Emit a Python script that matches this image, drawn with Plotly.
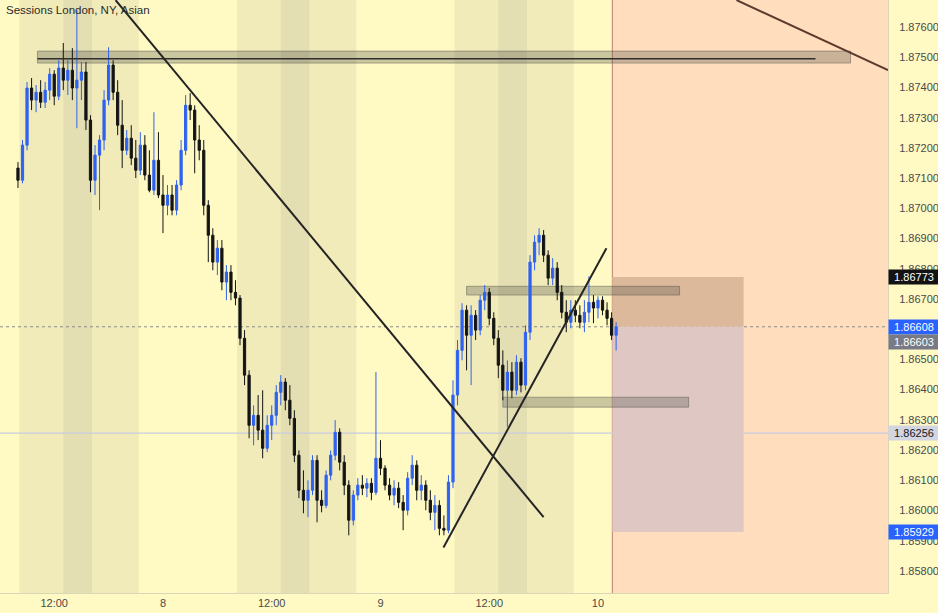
import plotly.graph_objects as go
import pandas as pd

# ---------------- data (30-minute candles) ----------------
times = pd.date_range("2021-06-07 08:00", periods=133, freq="30min")

opens = [1.87133, 1.87093, 1.87209, 1.87398, 1.87358, 1.87384, 1.87351, 1.87391, 1.87444, 1.87371,
         1.87464, 1.87424, 1.87457, 1.87398, 1.87424, 1.87451, 1.87292, 1.87093, 1.87176, 1.87226,
         1.87358, 1.87474, 1.87384, 1.87275, 1.87192, 1.87232, 1.87166, 1.87126, 1.87209, 1.87110,
         1.87060, 1.87159, 1.87044, 1.87010, 1.87044, 1.86994, 1.87077, 1.87192, 1.87341, 1.87325,
         1.87226, 1.87192, 1.87010, 1.86911, 1.86822, 1.86868, 1.86756, 1.86789, 1.86722, 1.86703,
         1.86570, 1.86448, 1.86282, 1.86315, 1.86266, 1.86206, 1.86282, 1.86315, 1.86391, 1.86425,
         1.86365, 1.86305, 1.86183, 1.86067, 1.86034, 1.86067, 1.86166, 1.86034, 1.86017, 1.86117,
         1.86183, 1.86259, 1.86160, 1.86084, 1.85968, 1.86051, 1.86084, 1.86074, 1.86090, 1.86060,
         1.86173, 1.86140, 1.86084, 1.86051, 1.86074, 1.86027, 1.86001, 1.86107, 1.86150, 1.86067,
         1.86084, 1.86034, 1.85994, 1.86017, 1.85941, 1.85935, 1.86094, 1.86382, 1.86530, 1.86663,
         1.86580, 1.86646, 1.86597, 1.86696, 1.86722, 1.86636, 1.86570, 1.86481, 1.86398, 1.86458,
         1.86398, 1.86491, 1.86415, 1.86590, 1.86822, 1.86888, 1.86911, 1.86845, 1.86769, 1.86802,
         1.86722, 1.86656, 1.86623, 1.86663, 1.86646, 1.86623, 1.86656, 1.86689, 1.86670, 1.86696,
         1.86663, 1.86636, 1.86580]

highs = [1.87153, 1.87226, 1.87418, 1.87431, 1.87408, 1.87424, 1.87418, 1.87464, 1.87457, 1.87490,
         1.87547, 1.87490, 1.87530, 1.87656, 1.87484, 1.87484, 1.87308, 1.87209, 1.87242, 1.87391,
         1.87533, 1.87490, 1.87424, 1.87358, 1.87259, 1.87275, 1.87226, 1.87252, 1.87242, 1.87192,
         1.87318, 1.87252, 1.87110, 1.87077, 1.87077, 1.87093, 1.87226, 1.87375, 1.87381, 1.87341,
         1.87275, 1.87226, 1.87027, 1.86934, 1.86895, 1.86895, 1.86812, 1.86812, 1.86762, 1.86713,
         1.86597, 1.86464, 1.86348, 1.86382, 1.86398, 1.86315, 1.86348, 1.86415, 1.86448, 1.86438,
         1.86415, 1.86332, 1.86199, 1.86133, 1.86100, 1.86183, 1.86183, 1.86067, 1.86133, 1.86199,
         1.86299, 1.86272, 1.86183, 1.86100, 1.86067, 1.86107, 1.86117, 1.86107, 1.86107, 1.86458,
         1.86233, 1.86150, 1.86107, 1.86100, 1.86094, 1.86051, 1.86127, 1.86183, 1.86166, 1.86117,
         1.86100, 1.86067, 1.86051, 1.86034, 1.85984, 1.86117, 1.86431, 1.86564, 1.86686, 1.86679,
         1.86679, 1.86663, 1.86713, 1.86746, 1.86736, 1.86656, 1.86597, 1.86530, 1.86497, 1.86491,
         1.86514, 1.86504, 1.86613, 1.86845, 1.86911, 1.86934, 1.86928, 1.86861, 1.86835, 1.86822,
         1.86746, 1.86696, 1.86696, 1.86696, 1.86679, 1.86696, 1.86775, 1.86713, 1.86709, 1.86709,
         1.86689, 1.86656, 1.86623]

lows = [1.87067, 1.87083, 1.87192, 1.87325, 1.87318, 1.87332, 1.87332, 1.87358, 1.87341, 1.87358,
        1.87391, 1.87375, 1.87358, 1.87265, 1.87358, 1.87259, 1.87053, 1.87044, 1.86994, 1.87192,
        1.87341, 1.87358, 1.87242, 1.87133, 1.87176, 1.87143, 1.87100, 1.87110, 1.87093, 1.87053,
        1.87044, 1.87034, 1.86918, 1.86977, 1.86977, 1.86977, 1.87060, 1.87176, 1.87292, 1.87116,
        1.87159, 1.86977, 1.86822, 1.86795, 1.86779, 1.86729, 1.86696, 1.86696, 1.86679, 1.86547,
        1.86415, 1.86239, 1.86216, 1.86233, 1.86173, 1.86193, 1.86233, 1.86282, 1.86348, 1.86332,
        1.86282, 1.86160, 1.86041, 1.85991, 1.85978, 1.86051, 1.85961, 1.85994, 1.86008, 1.86100,
        1.86166, 1.86133, 1.86051, 1.85918, 1.85951, 1.86034, 1.86051, 1.86044, 1.86034, 1.86051,
        1.86117, 1.86067, 1.86034, 1.86017, 1.86008, 1.85935, 1.85984, 1.86084, 1.86034, 1.86034,
        1.86001, 1.85968, 1.85935, 1.85918, 1.85918, 1.85925, 1.86074, 1.86348, 1.86497, 1.86464,
        1.86415, 1.86564, 1.86580, 1.86663, 1.86613, 1.86547, 1.86438, 1.86365, 1.86276, 1.86372,
        1.86382, 1.86391, 1.86398, 1.86564, 1.86795, 1.86845, 1.86822, 1.86746, 1.86746, 1.86696,
        1.86636, 1.86590, 1.86603, 1.86623, 1.86603, 1.86590, 1.86623, 1.86620, 1.86636, 1.86646,
        1.86613, 1.86564, 1.86530]

closes = [1.87093, 1.87209, 1.87398, 1.87358, 1.87384, 1.87351, 1.87391, 1.87444, 1.87371, 1.87464,
          1.87424, 1.87457, 1.87398, 1.87424, 1.87451, 1.87292, 1.87093, 1.87176, 1.87226, 1.87358,
          1.87474, 1.87384, 1.87275, 1.87192, 1.87232, 1.87166, 1.87126, 1.87209, 1.87110, 1.87060,
          1.87159, 1.87044, 1.87010, 1.87044, 1.86994, 1.87077, 1.87192, 1.87341, 1.87325, 1.87226,
          1.87192, 1.87010, 1.86911, 1.86822, 1.86868, 1.86756, 1.86789, 1.86722, 1.86703, 1.86570,
          1.86448, 1.86282, 1.86315, 1.86266, 1.86206, 1.86282, 1.86315, 1.86391, 1.86425, 1.86365,
          1.86305, 1.86183, 1.86067, 1.86034, 1.86067, 1.86166, 1.86034, 1.86017, 1.86117, 1.86183,
          1.86259, 1.86160, 1.86084, 1.85968, 1.86051, 1.86084, 1.86074, 1.86090, 1.86060, 1.86173,
          1.86140, 1.86084, 1.86051, 1.86074, 1.86027, 1.86001, 1.86107, 1.86150, 1.86067, 1.86084,
          1.86034, 1.85994, 1.86017, 1.85941, 1.85935, 1.86094, 1.86382, 1.86530, 1.86663, 1.86580,
          1.86646, 1.86597, 1.86696, 1.86722, 1.86636, 1.86570, 1.86481, 1.86398, 1.86458, 1.86398,
          1.86491, 1.86415, 1.86590, 1.86822, 1.86888, 1.86911, 1.86845, 1.86769, 1.86802, 1.86722,
          1.86656, 1.86623, 1.86663, 1.86646, 1.86623, 1.86656, 1.86689, 1.86670, 1.86696, 1.86663,
          1.86636, 1.86580, 1.86608]

# sessions
london_start = ["2021-06-07 08:10", "2021-06-08 08:10", "2021-06-09 08:10"]
london_end = ["2021-06-07 16:10", "2021-06-08 16:10", "2021-06-09 16:10"]
ny_start = ["2021-06-07 13:00", "2021-06-08 13:00", "2021-06-09 13:00"]
ny_end = ["2021-06-07 21:20", "2021-06-08 21:20", "2021-06-09 21:20"]

# x tick labels
tick_times = ["2021-06-07 12:00", "2021-06-08 00:00", "2021-06-08 12:00",
              "2021-06-09 00:00", "2021-06-09 12:00", "2021-06-10 00:00"]
tick_labels = ["12:00", "8", "12:00", "9", "12:00", "10"]

# key price levels
last_price = 1.86608
prev_price = 1.86603
stop_price = 1.86773
target_price = 1.85929
hline_price = 1.86256

x_range = ["2021-06-07 06:01", "2021-06-11 08:00"]
y_range = [1.857271, 1.876893]

FONT = "Liberation Sans, Arial, sans-serif"
BG = "#FFF9C4"

fig = go.Figure()
fig.add_trace(go.Candlestick(
    x=times, open=opens, high=highs, low=lows, close=closes,
    increasing=dict(line=dict(color="#2F62F0", width=1), fillcolor="#2F62F0"),
    decreasing=dict(line=dict(color="#141414", width=1), fillcolor="#141414"),
    whiskerwidth=0, hoverinfo="skip", showlegend=False,
))

shapes = []
# session bands
for s, e in zip(london_start, london_end):
    shapes.append(dict(type="rect", xref="x", yref="paper", x0=s, x1=e, y0=0, y1=1,
                       fillcolor="rgba(150,150,120,0.13)", line_width=0, layer="below"))
for s, e in zip(ny_start, ny_end):
    shapes.append(dict(type="rect", xref="x", yref="paper", x0=s, x1=e, y0=0, y1=1,
                       fillcolor="rgba(150,150,120,0.13)", line_width=0, layer="below"))
# future (peach) area
shapes.append(dict(type="rect", xref="x", yref="paper", x0="2021-06-10 01:35", x1=x_range[1],
                   y0=0, y1=1, fillcolor="#FFDDBD", line_width=0, layer="below"))
shapes.append(dict(type="line", xref="x", yref="paper", x0="2021-06-10 01:35", x1="2021-06-10 01:35",
                   y0=0, y1=1, line=dict(color="#B98070", width=1), layer="below"))
# short position box
shapes.append(dict(type="rect", xref="x", yref="y", x0="2021-06-10 01:35", x1="2021-06-10 16:04",
                   y0=last_price, y1=stop_price, fillcolor="#DDB99B", line_width=0, layer="below"))
shapes.append(dict(type="rect", xref="x", yref="y", x0="2021-06-10 01:35", x1="2021-06-10 16:04",
                   y0=target_price, y1=last_price, fillcolor="#DFC7C4", line_width=0, layer="below"))
# horizontal lines
shapes.append(dict(type="line", xref="paper", yref="y", x0=0, x1=1, y0=hline_price, y1=hline_price,
                   line=dict(color="#C9CBE0", width=1.2), layer="below"))
shapes.append(dict(type="line", xref="paper", yref="y", x0=0, x1=1, y0=last_price, y1=last_price,
                   line=dict(color="#8A8A8A", width=1, dash="dot"), layer="below"))
# zones
zone = dict(type="rect", xref="x", yref="y", fillcolor="rgba(80,80,70,0.30)",
            line=dict(color="rgba(80,80,70,0.45)", width=1), layer="below")
shapes.append({**zone, "x0": "2021-06-07 10:09", "x1": "2021-06-11 03:52", "y0": 1.874805, "y1": 1.875202})
shapes.append({**zone, "x0": "2021-06-09 09:30", "x1": "2021-06-10 09:00", "y0": 1.86713, "y1": 1.86742})
shapes.append({**zone, "x0": "2021-06-09 13:30", "x1": "2021-06-10 10:00", "y0": 1.86342, "y1": 1.86375})
shapes.append(dict(type="line", xref="x", yref="y", x0="2021-06-07 10:09", x1="2021-06-11 00:00",
                   y0=1.87495, y1=1.87495, line=dict(color="#2E2E2E", width=1.5)))
# trendlines
shapes.append(dict(type="line", xref="x", yref="y", x0="2021-06-07 18:46", y0=1.87689,
                   x1="2021-06-09 18:00", y1=1.85978, line=dict(color="#242424", width=2)))
shapes.append(dict(type="line", xref="x", yref="y", x0="2021-06-09 06:57", y0=1.85878,
                   x1="2021-06-10 00:56", y1=1.86868, line=dict(color="#242424", width=2)))
shapes.append(dict(type="line", xref="x", yref="y", x0="2021-06-10 15:17", y0=1.87689,
                   x1="2021-06-11 08:00", y1=1.87457, line=dict(color="#5A3B2E", width=2)))

annotations = [dict(text="Sessions London, NY, Asian", xref="paper", yref="paper", x=0, y=1,
                    xanchor="left", yanchor="top", xshift=4, yshift=-2, showarrow=False,
                    font=dict(family=FONT, size=11.5, color="#2B2B2B"))]

def price_label(val, bg, fg, yshift=0):
    return dict(text=f"{val:.5f}", xref="paper", yref="y", x=1, y=val, xanchor="left",
                yanchor="middle", yshift=yshift, showarrow=False, bgcolor=bg, width=50, height=14,
                borderpad=0, align="center", font=dict(family=FONT, size=11, color=fg))

annotations += [
    price_label(stop_price, "#131313", "#FFFFFF"),
    price_label(last_price, "#2962FF", "#FFFFFF"),
    price_label(prev_price, "#787B86", "#FFFFFF", yshift=-14),
    price_label(hline_price, "#D3D5E0", "#131722"),
    price_label(target_price, "#2962FF", "#FFFFFF"),
]

fig.update_layout(
    width=938, height=613,
    margin=dict(l=0, r=50, t=0, b=20, autoexpand=False),
    paper_bgcolor=BG, plot_bgcolor=BG,
    showlegend=False, shapes=shapes, annotations=annotations,
    font=dict(family=FONT, size=11, color="#4A4A4A"),
    xaxis=dict(type="date", range=x_range, rangeslider=dict(visible=False),
               tickvals=tick_times, ticktext=tick_labels, showgrid=False, zeroline=False,
               showline=True, linecolor="#DAD6B8", linewidth=1, ticks="",
               tickfont=dict(family=FONT, size=11, color="#4A4A4A"), fixedrange=True),
    yaxis=dict(side="right", range=y_range, dtick=0.001, tick0=1.85, tickformat=".5f",
               showgrid=False, zeroline=False, showline=True, linecolor="#DAD6B8", linewidth=1,
               ticks="", ticklabelstandoff=8,
               tickfont=dict(family=FONT, size=11, color="#4A4A4A"), fixedrange=True),
)

fig.write_html("out.html", config={"displayModeBar": False},
               post_script="document.body.style.margin='0px';document.body.style.overflow='hidden';")
